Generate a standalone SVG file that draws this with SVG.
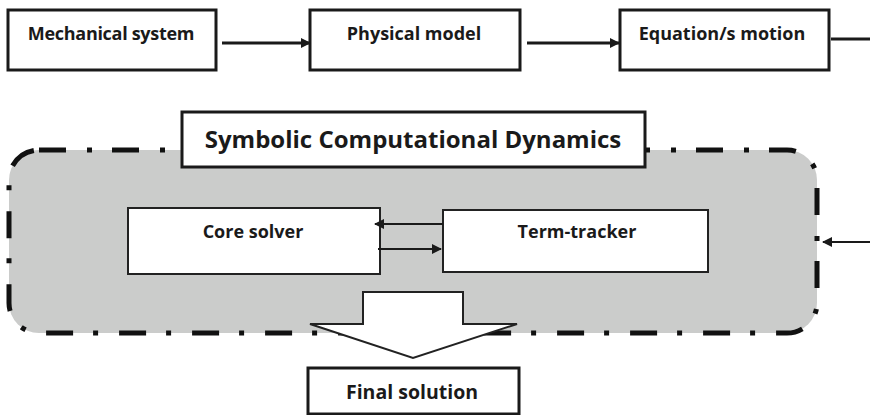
<svg xmlns="http://www.w3.org/2000/svg" width="870" height="415" viewBox="0 0 870 415">
<style>
.box{fill:#fff;stroke:#1a1a1a;stroke-width:3}
.ibox{fill:#fff;stroke:#222;stroke-width:2}
.t{font-family:"Open Sans","Liberation Sans",Arial,sans-serif;font-weight:bold;font-size:18px;fill:#1a1a1a;text-anchor:middle}
.big{font-size:24px}
.fs{font-size:19.5px}
.ln{stroke:#1a1a1a;stroke-width:3;fill:none}
.ln2{stroke:#1a1a1a;stroke-width:1.8;fill:none}
</style>
<defs>
<marker id="ah" markerWidth="10" markerHeight="10" refX="9" refY="5" orient="auto" markerUnits="userSpaceOnUse">
<path d="M0,0 L10,5 L0,10 Z" fill="#1a1a1a"/>
</marker>
</defs>
<rect x="0" y="0" width="870" height="415" fill="#fff"/>
<g id="scd-region">
<rect x="9" y="150" width="808" height="183" rx="30" fill="#cbcccb" stroke="#111" stroke-width="5" stroke-dasharray="27 21 5 20"/>
</g>
<g id="mechanical-system"><rect class="box" x="8" y="10" width="208" height="60"/><text class="t" x="111" y="40" letter-spacing="-0.3">Mechanical system</text></g>
<g id="physical-model"><rect class="box" x="310" y="10" width="210" height="60"/><text class="t" x="414" y="40">Physical model</text></g>
<g id="equations-motion"><rect class="box" x="620" y="10" width="209" height="60"/><text class="t" x="722" y="40">Equation/s motion</text></g>
<g id="scd-title"><rect class="box" x="182" y="112" width="463" height="55"/><text class="t big" x="413" y="148">Symbolic Computational Dynamics</text></g>
<g id="core-solver"><rect class="ibox" x="128" y="208" width="252" height="66"/><text class="t" x="253" y="238">Core solver</text></g>
<g id="term-tracker"><rect class="ibox" x="443" y="210" width="265" height="62"/><text class="t" x="577" y="238">Term-tracker</text></g>
<g id="big-arrow"><path d="M363,292 L463,292 L463,324 L517,324 L413,358 L310,324 L363,324 Z" fill="#fff" stroke="#222" stroke-width="2"/></g>
<g id="final-solution"><rect class="box" x="308" y="368" width="211" height="46"/><text class="t fs" x="412" y="399">Final solution</text></g>
<g id="connectors">
<line class="ln" x1="222" y1="43" x2="310" y2="43" marker-end="url(#ah)"/>
<line class="ln" x1="527" y1="43" x2="619" y2="43" marker-end="url(#ah)"/>
<line class="ln" x1="831" y1="39" x2="870" y2="39"/>
<line class="ln2" x1="870" y1="242" x2="823" y2="242" marker-end="url(#ah)"/>
<line class="ln2" x1="443" y1="224" x2="375" y2="224" marker-end="url(#ah)"/>
<line class="ln2" x1="378" y1="249" x2="441" y2="249" marker-end="url(#ah)"/>
</g>
</svg>
